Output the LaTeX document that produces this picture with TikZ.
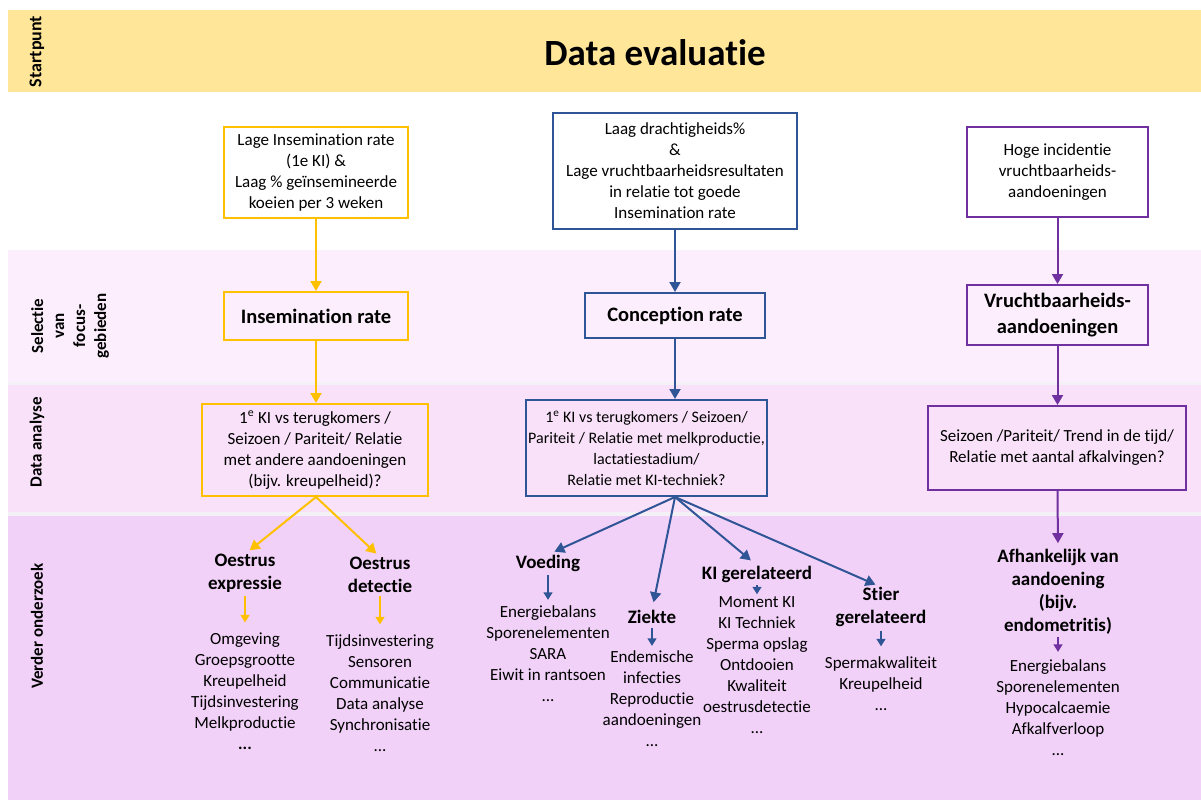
\documentclass[tikz,border=0pt]{standalone}
\usepackage{fontspec}
\setmainfont{Carlito}[Ligatures=NoCommon]
\usetikzlibrary{arrows.meta}
\definecolor{cy}{HTML}{FFC000}
\definecolor{cb}{HTML}{2F5597}
\definecolor{cp}{HTML}{7030A0}
\definecolor{bandA}{HTML}{FFE699}
\definecolor{bandB}{HTML}{FCEEFC}
\definecolor{bandC}{HTML}{F9E2F9}
\definecolor{bandD}{HTML}{F2D1F8}
\definecolor{sep}{HTML}{F3F0F6}
\begin{document}
\begin{tikzpicture}[x=1pt,y=-1pt,
  lab/.style={rotate=90, font=\bfseries\fontsize{17}{21}\selectfont, align=center, inner sep=0pt},
  txt/.style={font=\fontsize{17}{21}\selectfont, align=center, inner sep=0pt},
  hdr/.style={font=\bfseries\fontsize{19}{23}\selectfont, align=center, inner sep=0pt},
  boxbase/.style={draw, line width=2pt, align=center, inner sep=2pt, font=\fontsize{17}{21}\selectfont},
  bigbox/.style={boxbase, font=\bfseries\fontsize{20.5}{26}\selectfont},
  arr/.style={line width=2pt, -{Triangle[length=10pt,width=11pt]}},
  sarr/.style={line width=1.5pt, -{Triangle[length=7.5pt,width=9pt]}}
]
\useasboundingbox (0,0) rectangle (1201,800);
% bands
\fill[bandA] (8,10) rectangle (1201,92);
\fill[bandB] (8,250) rectangle (1201,382);
\fill[sep] (8,382) rectangle (1201,385);
\fill[bandC] (8,385) rectangle (1201,512);
\fill[sep] (8,512) rectangle (1201,516);
\fill[bandD] (8,516) rectangle (1201,800);
% left labels
\node[lab, font=\bfseries\fontsize{18}{21}\selectfont] (l1) at (37,51.5) {Startpunt};
\node[lab] (l2) at (70,326) {Selectie\\van\\focus-\\gebieden};
\node[lab] (l3) at (37,442.5) {Data analyse};
\node[lab] (l4) at (37,626) {Verder onderzoek};
% title
\node[font=\bfseries\fontsize{37}{42}\selectfont, inner sep=0pt] (title) at (655,53) {Data evaluatie};

% yellow column
\node[boxbase, draw=cy, minimum width=184pt, minimum height=91pt] (y1) at (316,172.5)
  {Lage Insemination rate\\(1e KI) \&\\Laag \% geïnsemineerde\\koeien per 3 weken};
\node[bigbox, draw=cy, minimum width=184pt, minimum height=48pt] (y2) at (316,316) {Insemination rate};
\node[boxbase, draw=cy, minimum width=226pt, minimum height=92pt] (y3) at (315,450)
  {1\textsuperscript{e} KI vs terugkomers /\\Seizoen / Pariteit/ Relatie\\met andere aandoeningen\\(bijv. kreupelheid)?};
\draw[arr, cy] (y1) -- (y2);
\draw[arr, cy] (y2.south) -- (y2.south |- y3.north);
\coordinate (yo) at (y2.south |- y3.south);
\node[hdr] (oe) at (245,573.5) {Oestrus\\expressie};
\node[hdr] (od) at (380,575) {Oestrus\\detectie};
\draw[arr, cy, shorten >=6pt] (yo) -- (oe.north);
\draw[arr, cy, shorten >=5pt] (yo) -- (od.north);
\node[txt] (oel) at (245,691) {Omgeving\\Groepsgrootte\\Kreupelheid\\Tijdsinvestering\\Melkproductie\\\textbf{...}};
\node[txt] (odl) at (380,693) {Tijdsinvestering\\Sensoren\\Communicatie\\Data analyse\\Synchronisatie\\...};
\draw[sarr, cy, shorten <=3pt, shorten >=10pt] (oe) -- (oel);
\draw[sarr, cy, shorten <=3pt, shorten >=10pt] (od) -- (odl);

% blue column
\node[boxbase, draw=cb, minimum width=244pt, minimum height=116pt] (b1) at (675,171)
  {Laag drachtigheids\%\\\&\\Lage vruchtbaarheidsresultaten\\in relatie tot goede\\Insemination rate};
\node[bigbox, draw=cb, minimum width=180pt, minimum height=45pt] (b2) at (675,315.5) {Conception rate};
\node[boxbase, draw=cb, minimum width=237pt, minimum height=96pt, font=\fontsize{16}{21}\selectfont] (b3) at (646.5,448)
  {1\textsuperscript{e} KI vs terugkomers / Seizoen/\\Pariteit / Relatie met melkproductie,\\lactatiestadium/\\Relatie met KI-techniek?};
\draw[arr, cb] (b1) -- (b2);
\draw[arr, cb] (b2.south) -- (b2.south |- b3.north);
\coordinate (bo) at (b2.south |- b3.south);
\node[hdr] (vo) at (548,563) {Voeding};
\node[hdr] (zi) at (652,617) {Ziekte};
\node[hdr] (ki) at (757,574) {KI gerelateerd};
\node[hdr] (st) at (881,607) {Stier\\gerelateerd};
\draw[arr, cb, shorten >=7pt] (bo) -- (vo.north);
\draw[arr, cb, shorten >=8pt] (bo) -- (zi.north);
\draw[arr, cb, shorten >=8pt] (bo) -- (ki.north);
\draw[arr, cb, shorten >=6pt] (bo) -- (st.north);
\node[txt] (vol) at (548,654) {Energiebalans\\Sporenelementen\\SARA\\Eiwit in rantsoen\\...};
\node[txt] (zil) at (652,699) {Endemische\\infecties\\Reproductie\\aandoeningen\\...};
\node[txt] (kil) at (757,665) {Moment KI\\KI Techniek\\Sperma opslag\\Ontdooien\\Kwaliteit\\oestrusdetectie\\...};
\node[txt] (stl) at (881,683.5) {Spermakwaliteit\\Kreupelheid\\...};
\draw[sarr, cb, shorten <=4pt, shorten >=6pt] (vo) -- (vol);
\draw[sarr, cb, shorten <=4pt, shorten >=5pt] (zi) -- (zil);
\draw[sarr, cb, shorten <=3pt, shorten >=2pt] (ki) -- (kil);
\draw[sarr, cb, shorten <=4pt, shorten >=10pt] (st) -- (stl);

% purple column
\node[boxbase, draw=cp, minimum width=181pt, minimum height=90pt] (p1) at (1057.5,172)
  {Hoge incidentie\\vruchtbaarheids-\\aandoeningen};
\node[bigbox, draw=cp, minimum width=181pt, minimum height=60pt] (p2) at (1057.5,315) {Vruchtbaarheids-\\aandoeningen};
\node[boxbase, draw=cp, minimum width=258pt, minimum height=84pt] (p3) at (1057,448)
  {Seizoen /Pariteit/ Trend in de tijd/\\Relatie met aantal afkalvingen?};
\draw[arr, cp] (p1) -- (p2);
\draw[arr, cp] (p2.south) -- (p2.south |- p3.north);
\node[hdr] (af) at (1058,592) {Afhankelijk van\\aandoening\\(bijv.\\endometritis)};
\draw[arr, cp, shorten >=6pt] (p2.south |- p3.south) -- (af.north);
\node[txt] (afl) at (1058,708) {Energiebalans\\Sporenelementen\\Hypocalcaemie\\Afkalfverloop\\...};
\draw[sarr, cp, shorten <=2pt, shorten >=8pt] (af) -- (afl);
\end{tikzpicture}
\end{document}
